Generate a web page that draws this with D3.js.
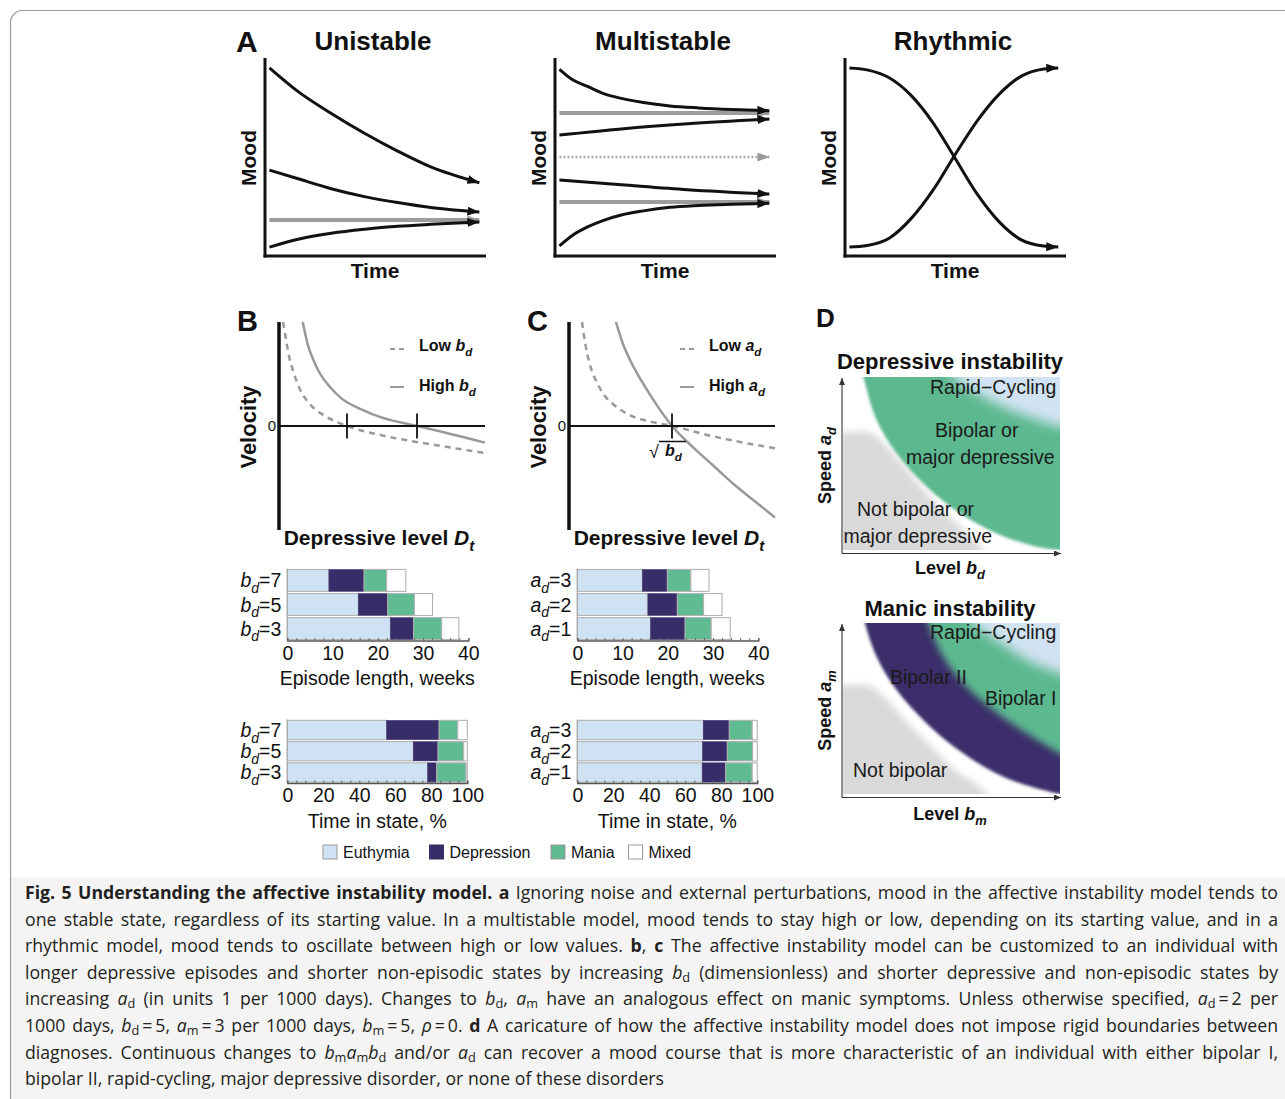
<!DOCTYPE html>
<html><head><meta charset="utf-8">
<script src="https://cdn.jsdelivr.net/npm/d3@7"></script>
<style>
body{margin:0;background:#fff;}
#wrap{position:relative;width:1285px;height:1099px;overflow:hidden;}
#wrap svg{position:absolute;left:0;top:0;}
#cap{position:absolute;left:25px;top:879px;width:1253px;font-family:"Open Sans",sans-serif;font-size:17.7px;line-height:26.6px;color:#231f20;}
#cap div{text-align:justify;text-align-last:justify;white-space:nowrap;}
#cap div.last{text-align-last:left;}
#cap sub{font-size:0.72em;vertical-align:-0.25em;line-height:0;}
#cap b{font-weight:700;}
</style></head>
<body><div id="wrap"></div>
<script>
const FONT="Liberation Sans, Arial, Helvetica, sans-serif";
// ---------- Panel A data (time 0-100, mood 0-100) ----------
const uniTime=[2,15,30,45,60,75,97];
const uniTop=[95,83,72,62,53,45,37];
const uniMid=[43.4,39,34,30,27,24.5,22.2];
const uniLow=[4.5,8.5,11.5,13.5,15,16,17.2];
const uniFixed=[18.2,18.2];
const fixTime=[2,97];
const msTime=[2,8,15,22,30,40,52,65,80,97];
const msTop=[94.3,89,85.5,82,79.6,77.5,75.8,74.8,74,73.4];
const msLow=[5.1,10.5,14.8,18,20.7,22.8,24.6,25.5,26.1,26.6];
const msTime2=[2,30,60,97];
const msUpperMid=[61.1,64.2,66.8,69.2];
const msLowerMid=[38.4,36,33.5,31.3];
const msHighFixed=[72.2,72.2], msUnstable=[50,50], msLowFixed=[27.3,27.3];
const rhTime=[2,10,20,30,40,50,60,70,80,90,96.5];
const rhDown=[95,94,90,81,67,49,31,17,8,5,4.5];
const rhUp=[4.5,5.3,9,19,33.5,51.5,68.5,82,91,94.5,95];
// ---------- Panel B/C data (level 0-10, velocity -5..5) ----------
const bHighD=[1.15,1.4,1.7,2.0,2.5,3.0,4.0,5.0,6.7,8.0,10];
const bHighV=[5.0,3.9,3.1,2.5,1.85,1.35,0.8,0.4,0,-0.3,-0.8];
const bLowD=[0.2,0.35,0.5,0.7,1.0,1.5,2.2,3.3,5,7.5,10];
const bLowV=[5,4.1,3.3,2.6,1.8,1.05,0.5,0,-0.45,-0.9,-1.3];
const bRoots=[3.3,6.7];
const cHighD=[2.28,2.6,3.0,3.5,4.0,5.0,6.0,7.0,8.0,9.0,10];
const cHighV=[5,4.0,3.1,2.2,1.4,0,-1.0,-1.9,-2.8,-3.6,-4.4];
const cLowD=[0.63,0.8,1.0,1.3,1.7,2.2,3.0,4.0,5.0,7.0,10];
const cLowV=[5,3.9,3.0,2.2,1.5,1.0,0.5,0.2,0,-0.5,-1.07];
const cRoots=[5.0];
// ---------- Bars ----------
const states=["Euthymia","Depression","Mania","Mixed"];
const stateColors=["#cfe2f3","#382c69","#5fbb92","#ffffff"];
const bdLevels=["7","5","3"];
const adLevels=["3","2","1"];
const episodeBd=[[9.2,7.75,5.0,4.25],[15.7,6.5,5.9,4.0],[22.8,5.1,6.2,3.8]];
const episodeAd=[[14.4,5.5,5.2,4.0],[15.6,6.5,5.8,4.1],[16.2,7.6,5.8,4.2]];
const timeBd=[[55.2,29.1,10.4,5.3],[70,13.7,14.3,2.0],[78,5,16.3,0.7]];
const timeAd=[[70,14.4,12.8,2.8],[69.6,13.7,14.1,2.6],[69.4,13,14.8,2.8]];
const episodeTicks=[0,10,20,30,40];
const timeTicks=[0,20,40,60,80,100];
// ---------- Panel D region boundaries (level 0-1, speed 0-1) ----------
const depGray=[[-0.1,0.682],[0,0.682],[0.124,0.676],[0.203,0.595],[0.295,0.462],[0.401,0.306],[0.507,0.173],[0.618,0.04],[0.645,0],[0.66,-0.1]];
const depGreen=[[0.075,1.1],[0.094,1.0],[0.155,0.751],[0.247,0.559],[0.386,0.366],[0.539,0.212],[0.708,0.096],[0.892,0.019],[1.0,0.0],[1.1,-0.01]];
const depBlue=[[0.48,1.1],[0.508,1.0],[0.616,0.906],[0.770,0.809],[0.922,0.742],[1.0,0.713],[1.1,0.69]];
const manGray=[[-0.1,0.637],[0,0.637],[0.124,0.632],[0.203,0.55],[0.295,0.421],[0.401,0.287],[0.516,0.14],[0.664,0],[0.68,-0.1]];
const manPurple=[[0.085,1.1],[0.101,1.0],[0.155,0.803],[0.247,0.608],[0.386,0.413],[0.554,0.238],[0.739,0.101],[0.923,0.023],[1.0,0.0],[1.1,-0.01]];
const manGreen=[[0.37,1.1],[0.393,1.0],[0.462,0.803],[0.570,0.627],[0.693,0.491],[0.847,0.355],[1.0,0.238],[1.1,0.18]];
const manBlue=[[0.57,1.1],[0.600,1.0],[0.708,0.900],[0.847,0.784],[1.0,0.706],[1.1,0.68]];

const svg=d3.select("#wrap").append("svg").attr("width",1285).attr("height",1099);
const defs=svg.append("defs");
function marker(id,color,len,half){
  defs.append("marker").attr("id",id).attr("viewBox",`0 ${-half} ${len} ${half*2}`)
    .attr("refX",len).attr("refY",0).attr("markerWidth",len).attr("markerHeight",half*2)
    .attr("markerUnits","userSpaceOnUse").attr("orient","auto")
    .append("path").attr("d",`M0,${-half}L${len},0L0,${half}Z`).attr("fill",color);
}
marker("arB","#111",12,4.5);
marker("arG","#999",12,4.5);
marker("arS","#333",7,3);
[["blurS",1.6],["blurM",3.5],["blurL",6]].forEach(([id,s])=>{
  defs.append("filter").attr("id",id).attr("x","-20%").attr("y","-20%").attr("width","140%").attr("height","140%")
   .append("feGaussianBlur").attr("stdDeviation",s);
});

// frame + caption background
svg.append("rect").attr("x",10).attr("y",877).attr("width",1300).attr("height",240).attr("fill","#f4f4f4");
svg.append("rect").attr("x",10.5).attr("y",10.5).attr("width",1300).attr("height",1110).attr("rx",12)
  .attr("fill","none").attr("stroke","#9a9a9a").attr("stroke-width",1.2);

function txt(g,x,y,s,opt={}){
  return g.append("text").attr("x",x).attr("y",y).text(s)
    .attr("font-family",FONT).attr("font-size",opt.size||16).attr("font-weight",opt.weight||"normal")
    .attr("text-anchor",opt.anchor||"start").attr("fill",opt.fill||"#111");
}
function varText(g,x,y,pre,v,sub,post,opt={}){
  const t=g.append("text").attr("x",x).attr("y",y).attr("font-family",FONT)
    .attr("font-size",opt.size||16).attr("font-weight",opt.weight||"normal")
    .attr("text-anchor",opt.anchor||"start").attr("fill",opt.fill||"#111");
  if(opt.transform) t.attr("transform",opt.transform);
  if(pre) t.append("tspan").text(pre);
  t.append("tspan").attr("font-style","italic").text(v);
  const sh=(opt.size||16)*0.3;
  t.append("tspan").attr("font-style","italic").attr("font-size",(opt.size||16)*0.72).attr("dy",sh).text(sub);
  t.append("tspan").attr("dy",-sh).text(post||"");
  return t;
}

// ================= Panel A =================
txt(svg,236,52,"A",{size:30,weight:"bold"});
function moodPanel(ox,title,series){
  const g=svg.append("g");
  const x=d3.scaleLinear([0,100],[ox,ox+221]);
  const y=d3.scaleLinear([0,100],[256,58]);
  const line=d3.line().x(d=>x(d[0])).y(d=>y(d[1])).curve(d3.curveMonotoneX);
  series.forEach(s=>{
    const pts=s.t.map((t,i)=>[t,s.v[i]]);
    g.append("path").attr("d",line(pts)).attr("fill","none").attr("stroke",s.color)
      .attr("stroke-width",s.w).attr("stroke-dasharray",s.dash||null)
      .attr("marker-end",`url(#${s.m})`);
  });
  g.append("line").attr("x1",x(0)).attr("x2",x(0)).attr("y1",y(100)).attr("y2",y(0)+1.5).attr("stroke","#111").attr("stroke-width",3);
  g.append("line").attr("x1",x(0)-1.5).attr("x2",x(100)).attr("y1",y(0)).attr("y2",y(0)).attr("stroke","#111").attr("stroke-width",3);
  txt(g,ox+108,50,title,{size:26,weight:"bold",anchor:"middle"});
  txt(g,ox+110,278,"Time",{size:21,weight:"bold",anchor:"middle"});
  g.append("text").attr("transform",`translate(${ox-9},158) rotate(-90)`).text("Mood")
    .attr("font-family",FONT).attr("font-size",21).attr("font-weight","bold").attr("text-anchor","middle").attr("fill","#111");
}
const BL="#111", GR="#9c9c9c";
moodPanel(265,"Unistable",[
  {t:fixTime,v:uniFixed,color:GR,w:4,m:"arG"},
  {t:uniTime,v:uniTop,color:BL,w:3,m:"arB"},
  {t:uniTime,v:uniMid,color:BL,w:3,m:"arB"},
  {t:uniTime,v:uniLow,color:BL,w:3,m:"arB"}]);
moodPanel(555,"Multistable",[
  {t:fixTime,v:msHighFixed,color:GR,w:4,m:"arG"},
  {t:fixTime,v:msLowFixed,color:GR,w:4,m:"arG"},
  {t:fixTime,v:msUnstable,color:"#aaa",w:2.5,dash:"2,2",m:"arG"},
  {t:msTime,v:msTop,color:BL,w:3,m:"arB"},
  {t:msTime2,v:msUpperMid,color:BL,w:3,m:"arB"},
  {t:msTime2,v:msLowerMid,color:BL,w:3,m:"arB"},
  {t:msTime,v:msLow,color:BL,w:3,m:"arB"}]);
moodPanel(845,"Rhythmic",[
  {t:rhTime,v:rhDown,color:BL,w:3,m:"arB"},
  {t:rhTime,v:rhUp,color:BL,w:3,m:"arB"}]);

// ================= Panels B, C =================
function velPanel(ox,letter,hi,lo,roots,varName){
  const g=svg.append("g");
  const x=d3.scaleLinear([0,10],[ox,ox+206]);
  const y=d3.scaleLinear([-5,5],[530,322]);
  const cid="clip"+letter;
  defs.append("clipPath").attr("id",cid).append("rect").attr("x",ox).attr("y",320).attr("width",207).attr("height",212);
  const line=d3.line().x(d=>x(d[0])).y(d=>y(d[1])).curve(d3.curveMonotoneX);
  const cg=g.append("g").attr("clip-path",`url(#${cid})`);
  cg.append("path").attr("d",line(lo.d.map((d,i)=>[d,lo.v[i]]))).attr("fill","none").attr("stroke","#999").attr("stroke-width",2.5).attr("stroke-dasharray","6,5");
  cg.append("path").attr("d",line(hi.d.map((d,i)=>[d,hi.v[i]]))).attr("fill","none").attr("stroke","#999").attr("stroke-width",2.5);
  g.append("line").attr("x1",x(0)).attr("x2",x(10)).attr("y1",y(0)).attr("y2",y(0)).attr("stroke","#111").attr("stroke-width",1.8);
  g.append("line").attr("x1",x(0)).attr("x2",x(0)).attr("y1",y(5)).attr("y2",y(-5)).attr("stroke","#111").attr("stroke-width",3.5);
  roots.forEach(r=>g.append("line").attr("x1",x(r)).attr("x2",x(r)).attr("y1",y(0.6)).attr("y2",y(-0.6)).attr("stroke","#111").attr("stroke-width",1.8));
  txt(g,ox-3,y(0)+5,"0",{size:15,anchor:"end"});
  txt(g,ox-42,331,letter,{size:29,weight:"bold"});
  g.append("text").attr("transform",`translate(${ox-23},${y(0)+1}) rotate(-90)`).text("Velocity")
    .attr("font-family",FONT).attr("font-size",22).attr("font-weight","bold").attr("text-anchor","middle").attr("fill","#111");
  varText(g,ox+100,545,"Depressive level ","D","t","",{size:21,weight:"bold",anchor:"middle"});
  g.append("line").attr("x1",ox+111).attr("x2",ox+125).attr("y1",349).attr("y2",349).attr("stroke","#999").attr("stroke-width",2).attr("stroke-dasharray","5,4");
  g.append("line").attr("x1",ox+111).attr("x2",ox+125).attr("y1",387).attr("y2",387).attr("stroke","#999").attr("stroke-width",2);
  varText(g,ox+140,351,"Low ",varName,"d","",{size:16,weight:"bold"});
  varText(g,ox+140,391,"High ",varName,"d","",{size:16,weight:"bold"});
  return {x,y,g};
}
velPanel(279,"B",{d:bHighD,v:bHighV},{d:bLowD,v:bLowV},bRoots,"b");
const pc=velPanel(569,"C",{d:cHighD,v:cHighV},{d:cLowD,v:cLowV},cRoots,"a");
{
  const rx=pc.x(cRoots[0]);
  txt(pc.g,rx-23,458,"\u221A",{size:18});
  pc.g.append("line").attr("x1",rx-13).attr("x2",rx+14).attr("y1",441.5).attr("y2",441.5).attr("stroke","#111").attr("stroke-width",1.5);
  varText(pc.g,rx-7,456,"","b","d","",{size:16,weight:"bold"});
}

// ================= Bars =================
function barChart(ox,domMax,ticks,minorStep,y0,y1,levels,values,varName,title,titleY,pad){
  const g=svg.append("g");
  const x=d3.scaleLinear([0,domMax],[ox,ox+(domMax===40?181:180)]);
  const y=d3.scaleBand().domain(levels).range([y0,y1]).paddingInner(0.09).paddingOuter(0.04);
  levels.forEach((lv,i)=>{
    let acc=0;
    values[i].forEach((v,j)=>{
      g.append("rect").attr("x",x(acc)).attr("y",y(lv)).attr("width",x(acc+v)-x(acc)).attr("height",y.bandwidth())
        .attr("fill",stateColors[j]).attr("stroke",j===1?"#382c69":"#b3b3b3").attr("stroke-width",j===1?0.5:1.1);
      acc+=v;
    });
    varText(g,ox-6,y(lv)+y.bandwidth()/2+7,"",varName,"d","="+lv,{size:19.5,anchor:"end"});
  });
  g.append("line").attr("x1",ox).attr("x2",ox).attr("y1",y0).attr("y2",y1).attr("stroke","#aaa").attr("stroke-width",1.2);
  const ax=g.append("g").attr("transform",`translate(0,${y1})`);
  ax.call(d3.axisBottom(x).tickValues(d3.range(0,domMax+0.01,minorStep)).tickSize(-2.5).tickFormat(""));
  const ax2=g.append("g").attr("transform",`translate(0,${y1})`);
  ax2.call(d3.axisBottom(x).tickValues(ticks).tickSize(0).tickPadding(pad));
  [ax,ax2].forEach(a=>{a.select(".domain").attr("stroke","#555").attr("stroke-width",1.3);a.selectAll("line").attr("stroke","#666");});
  ax2.select(".domain").remove();
  ax2.selectAll("text").attr("font-family",FONT).attr("font-size",19.5).attr("fill","#111");
  txt(g,ox+90,titleY,title,{size:19.5,anchor:"middle"});
}
barChart(287.3,40,episodeTicks,2,568.5,640.5,bdLevels,episodeBd,"b","Episode length, weeks",685,6);
barChart(577.3,40,episodeTicks,2,568.5,640.5,adLevels,episodeAd,"a","Episode length, weeks",685,6);
barChart(287.3,100,timeTicks,5,719.5,783,bdLevels,timeBd,"b","Time in state, %",828,5);
barChart(577.3,100,timeTicks,5,719.5,783,adLevels,timeAd,"a","Time in state, %",828,5);
{
  const lg=svg.append("g");
  const lx=[323,429.5,551,628.5];
  states.forEach((s,i)=>{
    lg.append("rect").attr("x",lx[i]).attr("y",845).attr("width",14).attr("height",14).attr("fill",stateColors[i]).attr("stroke",i===1?"#382c69":"#999").attr("stroke-width",1);
    txt(lg,lx[i]+20,858,s,{size:16});
  });
}

// ================= Panel D =================
txt(svg,816,327,"D",{size:26,weight:"bold"});
function regionPanel(top,bot,title,titleY,layers,labels,varSub,xLabY){
  const g=svg.append("g");
  const x=d3.scaleLinear([0,1],[843,1060]);
  const y=d3.scaleLinear([0,1],[bot,top]);
  const cid="clipD"+top;
  defs.append("clipPath").attr("id",cid).append("rect").attr("x",843).attr("y",top).attr("width",217).attr("height",bot-top);
  const cg=g.append("g").attr("clip-path",`url(#${cid})`);
  const line=d3.line().x(d=>x(d[0])).y(d=>y(d[1])).curve(d3.curveCatmullRom);
  layers.forEach(L=>{
    const p=line(L.pts)+`L${x(L.corner[0])},${y(L.corner[1])}Z`;
    cg.append("path").attr("d",p).attr("fill",L.color).attr("filter",`url(#${L.blur})`);
  });
  g.append("line").attr("x1",842).attr("x2",842).attr("y1",bot+3.5).attr("y2",top+1).attr("stroke","#333").attr("stroke-width",1.1).attr("marker-end","url(#arS)");
  g.append("line").attr("x1",842).attr("x2",1061).attr("y1",bot+3.5).attr("y2",bot+3.5).attr("stroke","#333").attr("stroke-width",1.1).attr("marker-end","url(#arS)");
  txt(g,950,titleY,title,{size:22,weight:"bold",anchor:"middle"});
  labels.forEach(l=>txt(g,l[0],l[1],l[2],{size:19.5,fill:"#1a1a1a"}));
  varText(g,950,xLabY,"Level ","b",varSub,"",{size:18,weight:"bold",anchor:"middle"});
  varText(g,0,0,"Speed ","a",varSub,"",{size:18,weight:"bold",anchor:"middle",transform:`translate(831,${(top+bot)/2+2}) rotate(-90)`});
}
regionPanel(377,550,"Depressive instability",369,[
  {pts:depGray,corner:[-0.1,-0.1],color:"#d9d9d9",blur:"blurM"},
  {pts:depGreen,corner:[1.2,1.2],color:"#5cb88f",blur:"blurS"},
  {pts:depBlue,corner:[1.2,1.2],color:"#d1e3f2",blur:"blurL"}],
  [[930,393.5,"Rapid\u2212Cycling"],[935,437,"Bipolar or"],[906,464,"major depressive"],[857,516,"Not bipolar or"],[843.5,543,"major depressive"]],
  "d",574);
regionPanel(623,794,"Manic instability",616,[
  {pts:manGray,corner:[-0.1,-0.1],color:"#d9d9d9",blur:"blurM"},
  {pts:manPurple,corner:[1.2,1.2],color:"#3a2e6b",blur:"blurS"},
  {pts:manGreen,corner:[1.2,1.2],color:"#5cb88f",blur:"blurM"},
  {pts:manBlue,corner:[1.2,1.2],color:"#d1e3f2",blur:"blurL"}],
  [[930,639,"Rapid\u2212Cycling"],[890,683.5,"Bipolar II"],[985,705,"Bipolar I"],[853,777,"Not bipolar"]],
  "m",820);
</script>
<script>
const capLines=[
 '<b>Fig. 5 Understanding the affective instability model.</b> <b>a</b> Ignoring noise and external perturbations, mood in the affective instability model tends to',
 'one stable state, regardless of its starting value. In a multistable model, mood tends to stay high or low, depending on its starting value, and in a',
 'rhythmic model, mood tends to oscillate between high or low values. <b>b</b>, <b>c</b> The affective instability model can be customized to an individual with',
 'longer depressive episodes and shorter non-episodic states by increasing <i>b</i><sub>d</sub> (dimensionless) and shorter depressive and non-episodic states by',
 'increasing <i>a</i><sub>d</sub> (in units 1 per 1000 days). Changes to <i>b</i><sub>d</sub>, <i>a</i><sub>m</sub> have an analogous effect on manic symptoms. Unless otherwise specified, <i>a</i><sub>d</sub>\u2009=\u20092 per',
 '1000 days, <i>b</i><sub>d</sub>\u2009=\u20095, <i>a</i><sub>m</sub>\u2009=\u20093 per 1000 days, <i>b</i><sub>m</sub>\u2009=\u20095, <i>\u03C1</i>\u2009=\u20090. <b>d</b> A caricature of how the affective instability model does not impose rigid boundaries between',
 'diagnoses. Continuous changes to <i>b</i><sub>m</sub><i>a</i><sub>m</sub><i>b</i><sub>d</sub> and/or <i>a</i><sub>d</sub> can recover a mood course that is more characteristic of an individual with either bipolar I,',
 'bipolar II, rapid-cycling, major depressive disorder, or none of these disorders'];
const cap=document.createElement("div");
cap.id="cap";
document.getElementById("wrap").appendChild(cap);
capLines.forEach((l,i)=>{const d=document.createElement("div");d.innerHTML=l;if(i===capLines.length-1)d.className="last";cap.appendChild(d);});
</script>
</body></html>
